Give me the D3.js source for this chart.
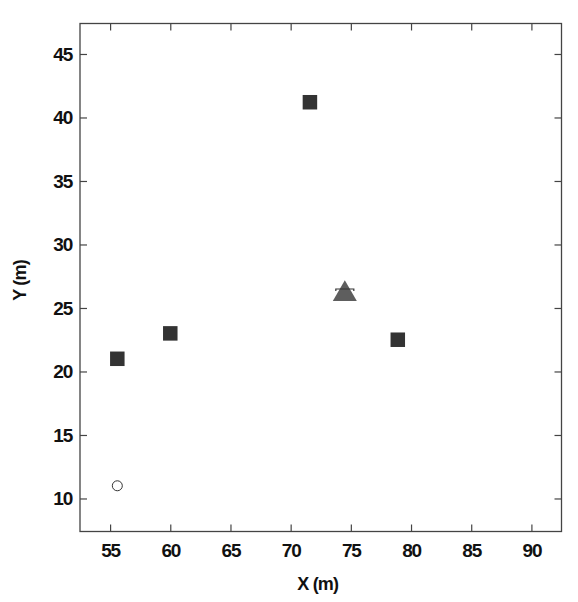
<!DOCTYPE html>
<html>
<head>
<meta charset="utf-8">
<script src="https://cdn.jsdelivr.net/npm/d3@7"></script>
<style>
  body { margin: 0; background: #fff; }
  svg { display: block; }
  text { font-family: "Liberation Sans", Arial, sans-serif; fill: #111; }
</style>
</head>
<body>
<svg width="578" height="602"></svg>
<script>
// data
var squareX = [55.6, 60.0, 71.6, 78.9];
var squareY = [21.0, 23.0, 41.2, 22.5];
var triangleX = [74.5];
var triangleY = [26.1];
var circleX = [55.6];
var circleY = [11.0];
var xTicks = [55, 60, 65, 70, 75, 80, 85, 90];
var yTicks = [10, 15, 20, 25, 30, 35, 40, 45];

var svg = d3.select("svg");
var margin = { left: 80, top: 23.5, right: 16.5, bottom: 70.5 };
var width = 578 - margin.left - margin.right,
    height = 602 - margin.top - margin.bottom;

var x = d3.scaleLinear().domain([52.5, 92.5]).range([0, width]);
var y = d3.scaleLinear().domain([7.4, 47.4]).range([height, 0]);

var g = svg.append("g").attr("transform", "translate(" + margin.left + "," + margin.top + ")");

// frame
g.append("rect")
    .attr("width", width).attr("height", height)
    .attr("fill", "none").attr("stroke", "#444").attr("stroke-width", 1.3);

// inward ticks on all sides
function styleAxis(sel) {
    sel.select(".domain").remove();
    sel.selectAll(".tick line").attr("stroke", "#444").attr("stroke-width", 1.2);
}

function styleLabels(sel) {
    sel.style("font-size", "19px").style("font-weight", "bold")
       .style("letter-spacing", "-1.2px").attr("fill", "#111");
}

g.append("g").attr("transform", "translate(0," + height + ")")
    .call(d3.axisBottom(x).tickValues(xTicks).tickSizeInner(-7).tickPadding(12))
    .call(styleAxis)
    .selectAll("text").call(styleLabels).attr("dy", "0.71em");

g.append("g")
    .call(d3.axisTop(x).tickValues(xTicks).tickSizeInner(-7).tickFormat(""))
    .call(styleAxis);

g.append("g")
    .call(d3.axisLeft(y).tickValues(yTicks).tickSizeInner(-7).tickPadding(8))
    .call(styleAxis)
    .selectAll("text").call(styleLabels);

g.append("g").attr("transform", "translate(" + width + ",0)")
    .call(d3.axisRight(y).tickValues(yTicks).tickSizeInner(-7).tickFormat(""))
    .call(styleAxis);

// axis titles
svg.append("text")
    .attr("x", margin.left + width / 2 - 3).attr("y", 590)
    .attr("text-anchor", "middle").style("font-size", "18px").style("font-weight", "bold")
    .style("letter-spacing", "-0.8px")
    .text("X (m)");

svg.append("text")
    .attr("transform", "translate(26," + (margin.top + height / 2 + 3) + ") rotate(-90)")
    .attr("text-anchor", "middle").style("font-size", "18px").style("font-weight", "bold")
    .style("letter-spacing", "-0.8px")
    .text("Y (m)");

// squares
var sq = 14.5;
g.selectAll("rect.sq")
    .data(d3.range(squareX.length))
    .enter().append("rect")
    .attr("class", "sq")
    .attr("x", function (i) { return x(squareX[i]) - sq / 2; })
    .attr("y", function (i) { return y(squareY[i]) - sq / 2; })
    .attr("width", sq).attr("height", sq)
    .attr("fill", "#333");

// triangle with its small bar
var tri = d3.symbol().type(d3.symbolTriangle).size(250);
g.selectAll("path.tri")
    .data(d3.range(triangleX.length))
    .enter().append("path")
    .attr("class", "tri")
    .attr("d", tri)
    .attr("transform", function (i) { return "translate(" + x(triangleX[i]) + "," + y(triangleY[i]) + ")"; })
    .attr("fill", "#5e5e5e");

g.selectAll("path.bar")
    .data(d3.range(triangleX.length))
    .enter().append("path")
    .attr("class", "bar")
    .attr("d", function (i) {
        var cx = x(triangleX[i]), cy = y(triangleY[i]) - 5;
        return "M" + (cx - 9) + "," + (cy + 2) + "L" + (cx - 9) + "," + cy +
               "L" + (cx + 9) + "," + cy + "L" + (cx + 9) + "," + (cy + 2);
    })
    .attr("fill", "none").attr("stroke", "#333").attr("stroke-width", 1.2);

// circle
g.selectAll("circle.c")
    .data(d3.range(circleX.length))
    .enter().append("circle")
    .attr("class", "c")
    .attr("cx", function (i) { return x(circleX[i]); })
    .attr("cy", function (i) { return y(circleY[i]); })
    .attr("r", 5)
    .attr("fill", "#fff").attr("stroke", "#333").attr("stroke-width", 1);
</script>
</body>
</html>
